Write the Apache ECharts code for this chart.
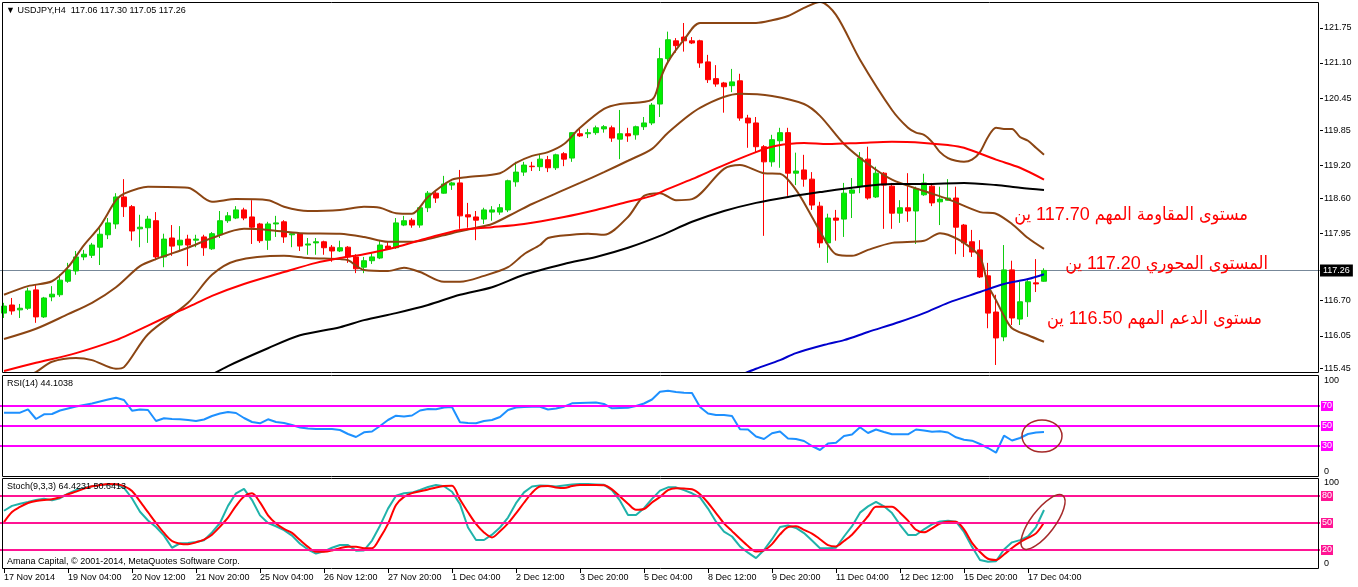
<!DOCTYPE html>
<html><head><meta charset="utf-8">
<script src="https://cdn.jsdelivr.net/npm/echarts@6/dist/echarts.min.js"></script>
<style>html,body{margin:0;padding:0;background:#fff}#c{width:1358px;height:587px}</style>
</head><body><div id="c"></div>
<script>
const FONT = '"Liberation Sans", "DejaVu Sans", Arial, sans-serif';
const ARFONT = '"Liberation Sans", "DejaVu Sans Condensed", "DejaVu Sans", sans-serif';
const tickLabels = ['17 Nov 2014','19 Nov 04:00','20 Nov 12:00','21 Nov 20:00','25 Nov 04:00','26 Nov 12:00','27 Nov 20:00','1 Dec 04:00','2 Dec 12:00','3 Dec 20:00','5 Dec 04:00','8 Dec 12:00','9 Dec 20:00','11 Dec 04:00','12 Dec 12:00','15 Dec 20:00','17 Dec 04:00'];
const priceTicks = [121.75,121.10,120.45,119.85,119.20,118.60,117.95,116.70,116.05,115.45];
const lastPrice = 117.26;

const open = [116.47,116.62,116.53,116.56,116.90,116.40,116.77,116.81,117.06,117.25,
117.51,117.54,117.69,117.92,118.12,118.62,118.44,118.03,118.05,118.18,
117.51,117.86,117.73,117.84,117.82,117.88,117.66,117.92,118.18,118.23,
118.38,118.25,118.12,117.82,118.12,118.16,117.92,117.94,117.73,117.77,
117.79,117.69,117.62,117.69,117.51,117.32,117.44,117.49,117.71,117.68,
118.10,118.19,118.10,118.42,118.69,118.69,118.84,118.88,118.29,118.25,
118.21,118.34,118.34,118.38,118.90,119.08,119.19,119.18,119.31,119.16,
119.42,119.34,119.79,119.79,119.81,119.88,119.90,119.69,119.79,119.77,
119.92,119.99,120.34,121.18,121.51,121.58,121.51,121.51,121.12,120.81,
120.73,120.68,120.77,120.08,119.99,119.55,119.27,119.66,119.81,119.06,
119.12,118.95,118.45,117.77,118.23,118.21,118.69,118.81,119.32,118.62,
119.06,118.82,118.32,118.42,118.36,118.66,118.82,118.53,118.56,118.60,
118.10,117.79,117.64,117.16,116.49,116.03,117.27,116.36,116.68,117.03,117.06];
const high = [116.66,116.75,116.64,116.94,116.99,116.77,116.97,117.19,117.40,117.62,
117.64,117.77,118.05,118.23,118.69,118.95,118.47,118.29,118.27,118.34,
117.94,118.10,118.08,117.92,117.92,117.92,117.97,118.36,118.34,118.45,
118.42,118.56,118.14,118.16,118.27,118.19,117.95,117.95,117.86,117.86,
117.81,117.73,117.81,117.71,117.56,117.51,117.58,117.82,117.79,118.23,
118.27,118.23,118.44,118.73,118.75,119.01,118.90,119.12,118.51,118.36,
118.42,118.45,118.49,118.94,119.27,119.27,119.27,119.40,119.38,119.42,
119.45,119.82,119.88,119.88,119.94,119.95,119.94,120.23,119.90,119.94,
120.10,120.36,121.38,121.68,121.56,121.84,121.58,121.53,121.25,121.06,
120.75,120.99,120.90,120.14,120.10,119.58,119.77,119.90,119.90,119.44,
119.40,119.08,118.53,118.31,118.38,118.88,118.97,119.45,119.55,119.18,
119.08,118.88,118.56,119.06,118.81,119.05,118.88,118.81,118.95,118.81,
118.12,118.01,117.82,117.40,116.81,117.73,117.44,117.05,117.08,117.47,117.30];
const low = [116.38,116.44,116.38,116.53,116.29,116.38,116.69,116.77,117.03,117.18,
117.45,117.49,117.36,117.84,118.03,118.25,117.81,117.69,117.77,117.45,
117.32,117.53,117.62,117.34,117.69,117.53,117.64,117.86,118.14,118.21,
118.19,117.75,117.77,117.64,117.88,117.77,117.69,117.62,117.55,117.55,
117.55,117.42,117.60,117.40,117.21,117.21,117.38,117.47,117.64,117.66,
118.08,118.05,118.05,118.34,118.51,118.68,118.75,118.03,118.05,117.82,
118.12,118.18,118.29,118.34,118.81,119.01,119.10,119.10,119.08,119.12,
119.19,119.27,119.73,119.71,119.77,119.81,119.64,119.32,119.64,119.68,
119.86,119.95,120.10,121.12,121.29,121.31,121.45,121.01,120.73,120.66,
120.18,120.56,120.03,119.53,119.44,117.90,119.18,119.16,118.64,118.84,
118.81,118.38,117.68,117.40,117.81,117.88,118.23,118.69,118.57,118.60,
118.03,118.03,118.14,118.16,117.75,118.64,118.45,118.10,118.55,117.56,
117.51,117.51,117.12,116.19,115.51,115.95,116.25,116.25,116.40,116.86,117.05];
const close = [116.60,116.51,116.56,116.88,116.40,116.75,116.82,117.08,117.27,117.51,
117.56,117.73,117.93,118.14,118.62,118.44,117.99,118.06,118.21,117.51,
117.84,117.71,117.82,117.73,117.84,117.68,117.94,118.18,118.27,118.38,
118.23,118.06,117.81,118.12,118.14,117.88,117.94,117.71,117.75,117.79,
117.68,117.62,117.68,117.51,117.29,117.44,117.51,117.73,117.66,118.14,
118.18,118.10,118.42,118.69,118.60,118.86,118.88,118.27,118.25,118.19,
118.38,118.38,118.42,118.92,119.08,119.21,119.18,119.32,119.16,119.40,
119.32,119.81,119.75,119.81,119.90,119.92,119.71,119.79,119.75,119.92,
119.99,120.32,121.18,121.53,121.42,121.51,121.47,121.10,120.79,120.71,
120.66,120.75,120.08,119.99,119.55,119.27,119.68,119.81,119.06,119.10,
118.95,118.47,117.77,118.23,118.19,118.69,118.75,119.34,118.60,119.06,
118.84,118.32,118.42,118.36,118.77,118.88,118.51,118.58,118.60,118.06,
117.77,117.60,117.14,116.47,116.01,117.27,116.38,116.68,117.05,117.01,117.26];

// indicator lines as [bar, value]
const bbUpper = [[0,116.81],[3,116.97],[6,117.06],[8,117.32],[10,117.73],[12,118.08],[14,118.56],[15,118.68],[18,118.81],[23,118.79],[26,118.53],[29,118.58],[33,118.56],[35,118.44],[38,118.36],[42,118.38],[45,118.44],[47,118.42],[49,118.32],[51,118.31],[53,118.62],[56,118.94],[58,118.99],[62,119.06],[64,119.25],[66,119.38],[68,119.45],[70,119.60],[72,119.90],[75,120.25],[77,120.34],[81,120.42],[82,120.79],[83,121.12],[85,121.53],[87,121.84],[90,121.84],[94,121.84],[96,121.89],[98,121.97],[100,122.12],[102,122.23],[104,121.99],[107,121.16],[111,120.23],[113,119.90],[114,119.81],[115,119.77],[116,119.64],[117,119.45],[118,119.34],[119,119.29],[120,119.27],[121,119.31],[122,119.45],[123,119.73],[124,119.90],[125,119.88],[126,119.88],[127,119.73],[128,119.66],[129,119.53],[130,119.40]];
const bbMiddle = [[0,115.99],[4,116.18],[8,116.45],[11,116.66],[14,116.95],[17,117.34],[19,117.47],[23,117.68],[26,117.86],[30,118.03],[33,118.01],[37,117.95],[42,117.94],[45,117.88],[48,117.79],[51,117.79],[53,117.84],[56,117.95],[59,118.05],[61,118.12],[64,118.34],[66,118.49],[70,118.75],[72,118.88],[75,119.08],[78,119.29],[81,119.51],[83,119.81],[87,120.27],[92,120.53],[96,120.49],[100,120.34],[102,120.12],[105,119.60],[108,119.23],[111,118.94],[115,118.73],[118,118.58],[122,118.34],[124,118.31],[126,118.12],[128,117.86],[130,117.66]];
const bbLower = [[0,115.05],[2,115.23],[4,115.38],[6,115.57],[9,115.64],[11,115.60],[14,115.44],[15,115.47],[18,116.08],[23,116.66],[26,117.18],[29,117.44],[35,117.53],[38,117.49],[42,117.47],[43,117.45],[45,117.27],[48,117.25],[50,117.31],[52,117.23],[55,117.05],[57,117.05],[60,117.16],[63,117.32],[65,117.56],[67,117.73],[68,117.86],[71,117.92],[73,117.94],[75,117.92],[78,118.25],[80,118.64],[82,118.69],[84,118.56],[86,118.58],[90,119.14],[92,119.21],[95,119.06],[97,119.05],[99,118.75],[101,118.25],[103,117.73],[104,117.56],[106,117.53],[108,117.64],[111,117.77],[115,117.81],[117,117.95],[118,117.92],[120,117.77],[122,117.51],[123,116.99],[124,116.71],[125,116.42],[126,116.19],[128,116.06],[130,115.94]];
const maRed = [[0,115.40],[4,115.55],[9,115.73],[14,115.97],[16,116.10],[20,116.38],[23,116.58],[26,116.79],[30,117.01],[35,117.23],[39,117.40],[42,117.49],[45,117.56],[49,117.69],[53,117.86],[57,118.01],[61,118.06],[65,118.12],[70,118.25],[74,118.38],[78,118.53],[81,118.64],[83,118.77],[86,118.95],[90,119.21],[94,119.45],[96,119.55],[98,119.60],[100,119.62],[103,119.60],[107,119.62],[111,119.64],[115,119.62],[118,119.58],[120,119.53],[124,119.31],[127,119.16],[130,118.94]];
const maBlack = [[25,115.25],[28,115.49],[33,115.82],[37,116.06],[42,116.21],[45,116.34],[49,116.47],[53,116.62],[57,116.81],[61,116.95],[65,117.18],[70,117.38],[74,117.51],[78,117.68],[82,117.90],[86,118.16],[90,118.36],[94,118.51],[98,118.62],[102,118.71],[107,118.81],[111,118.86],[115,118.86],[120,118.88],[124,118.84],[127,118.79],[130,118.75]];
const maBlue = [[92,115.32],[94,115.44],[97,115.60],[99,115.73],[103,115.90],[105,115.97],[108,116.12],[112,116.31],[115,116.47],[118,116.66],[122,116.86],[125,117.01],[128,117.10],[130,117.19]];

const rsi = [63.3,63.3,63.3,66.7,57,61.7,62,65.5,67.5,69.5,
71,72.5,74.5,76.5,78.3,76,65.3,66.5,66,55,
57.7,57,56.7,56,55,56.5,60,62.5,64,63,
58,54,52.7,56.7,54,53,51,48.5,47.5,47,
47,47,46,42,39,43.7,44.5,50,56,60.3,
59.5,60.5,65.5,67,66.7,68.5,69,53.7,53,52.7,
55,56,59,66,68.5,69,69.3,69.3,66.5,67.5,
69.3,72.7,73,73.3,73.5,72,67.7,68,68.3,70,
72.5,76.5,84.3,85.3,84,83.3,83,69,62.5,61,
61,60,46.7,46.5,39.5,37,42.7,44.5,37.5,37,
35,30,26,32.5,33.3,40,41.5,48.7,43,46.5,
44,41.7,41.7,41.7,46.5,45.5,44.3,44.8,43.5,38.7,
36.2,35.3,32,28,23.3,40.3,35.5,38,42,43.5,44.1];
const stochK = [63.6,69,71.4,73.3,75.5,77.1,75.2,77.6,82.5,86.6,
89,90.9,92.3,92.9,92.9,89,77.5,62.5,52.8,45.5,
36,22.5,27.4,27.9,29,30.8,39.5,50,69,83,
88,75.5,58.5,50,46.4,42,36,27,20.5,16,
18.5,22.5,25.6,25.6,19.3,19.5,30.5,47,66,80.3,
83.1,83.8,86.8,90,92.2,90.8,84.7,71,45,31.1,
31.1,37,45,56,72,84,90.5,91.8,91.3,90.6,
91.7,92.8,93.3,93.3,92.9,92.4,86.6,74.8,58.9,58.9,
66.5,76.8,86,89.6,89.6,86.5,83,78.5,66,51.5,
40.4,35,24,17,11,20,32,45.5,47.3,44.5,
38.8,30.5,22,22,22.5,35,46.5,61.5,68.5,73.6,
68.5,61,48,36.7,36.7,43,48.5,51.8,52.6,51.5,
40,23.5,9,7,7.5,20.5,28.5,31,35,45.5,64.4];
const stochD = [51,62.3,67.8,72.2,74.4,75.6,76.3,78.6,81.9,84.9,
88.2,90.8,92.1,93.3,93.1,91,85.5,74,62,50,
39,30,27,26.3,28.5,31.6,37,46,56,69,
79.5,83,73,58.5,49.5,43.5,39,31,23.5,18.1,
18.1,19.5,22,23.7,23.7,22,22,33.5,49,70,
79,83.2,85.3,87.2,89.5,91.2,91.5,76,62,49,
39.5,34,40.8,49.5,60.7,72.5,83.5,90.5,91,89.5,
88.8,91,92.2,92.2,92.2,92,87.4,79.5,71.5,64.6,
65.5,72.7,79,86.5,88.5,88.2,87.5,82,72.5,61,
49.6,41,32.5,24.5,18.3,19.5,26.5,37.3,45.5,46.5,
42.3,38.3,32,25.5,24,30,37,47,57.5,68.1,
68.1,68.1,61.5,52.6,42.5,39.6,44,49.4,51.5,51.5,
42.9,28,17.8,10.3,9,15,22.3,28.5,33.5,38.5,50.6];
const rsiLevels = [70, 50, 30];
const stochLevels = [80, 50, 20];

const NCAT = 165;
const cats = []; for (let i = 0; i < NCAT; i++) cats.push(String(i));
const candles = open.map((o, i) => [o, close[i], low[i], high[i]]);

const chart = echarts.init(document.getElementById('c'), null, {renderer: 'canvas'});

function xAx(g, showLabels) {
  const a = {type: 'category', gridIndex: g, data: cats, boundaryGap: true,
    axisLine: {show: false}, axisTick: {show: false}, axisLabel: {show: false}, splitLine: {show: false}};
  if (showLabels) {
    a.axisTick = {show: true, alignWithLabel: true, length: 5, lineStyle: {color: '#000', width: 1},
      interval: (idx) => idx % 8 === 0 && idx / 8 < tickLabels.length};
    a.axisLabel = {show: true, align: 'left', margin: 5, fontSize: 9, color: '#000', fontFamily: FONT,
      interval: (idx) => idx % 8 === 0 && idx / 8 < tickLabels.length,
      formatter: (v, idx) => tickLabels[idx / 8] || ''};
  }
  return a;
}
function lineS(data, color, g, width, z) {
  return {type: 'line', xAxisIndex: g, yAxisIndex: g, data: data, symbol: 'none', showSymbol: false,
    smooth: 0.3, lineStyle: {color: color, width: width}, silent: true, z: z || 3, animation: false};
}
function levelMark(levels, color) {
  return {silent: true, symbol: ['none', 'none'], animation: false,
    data: levels.map(v => ({yAxis: v})),
    lineStyle: {color: color, width: 2, type: 'solid'},
    label: {show: true, position: 'end', distance: 1, formatter: p => String(p.value),
      backgroundColor: color, color: '#fff', padding: [1, 1, 0, 1], fontSize: 9, fontFamily: FONT}};
}
const smallText = {fontSize: 9, fontWeight: 'normal', color: '#000', fontFamily: FONT};

const option = {
  animation: false,
  backgroundColor: '#fff',
  title: [
    {text: '\u25BC USDJPY,H4  117.06 117.30 117.05 117.26', left: 6, top: 6, padding: 0, textStyle: smallText},
    {text: 'RSI(14) 44.1038', left: 7, top: 379, padding: 0, textStyle: smallText},
    {text: 'Stoch(9,3,3) 64.4231 50.6413', left: 7, top: 482, padding: 0, textStyle: smallText},
    {text: 'Amana Capital, \u00A9 2001-2014, MetaQuotes Software Corp.', left: 7, top: 557, padding: 0, textStyle: smallText}
  ],
  grid: [
    {left: 0, top: 3, width: 1320, height: 369},
    {left: 0, top: 376, width: 1320, height: 100},
    {left: 0, top: 478, width: 1320, height: 90}
  ],
  xAxis: [xAx(0, false), xAx(1, false), xAx(2, true)],
  yAxis: [
    {type: 'value', gridIndex: 0, position: 'right', min: 115.38, max: 122.21,
      axisLine: {show: false}, splitLine: {show: false},
      axisTick: {show: true, length: 3, customValues: priceTicks, lineStyle: {color: '#000'}},
      axisLabel: {customValues: priceTicks, formatter: v => v.toFixed(2), margin: 4, fontSize: 9, color: '#000', fontFamily: FONT}},
    {type: 'value', gridIndex: 1, position: 'right', min: 0, max: 100,
      axisLine: {show: false}, splitLine: {show: false}, axisTick: {show: false},
      axisLabel: {customValues: [0, 100], margin: 4, fontSize: 9, color: '#000', fontFamily: FONT,
        verticalAlignMinLabel: 'bottom', verticalAlignMaxLabel: 'top'}},
    {type: 'value', gridIndex: 2, position: 'right', min: 0, max: 100,
      axisLine: {show: false}, splitLine: {show: false}, axisTick: {show: false},
      axisLabel: {customValues: [0, 100], margin: 4, fontSize: 9, color: '#000', fontFamily: FONT,
        verticalAlignMinLabel: 'bottom', verticalAlignMaxLabel: 'top'}}
  ],
  series: [
    {type: 'candlestick', xAxisIndex: 0, yAxisIndex: 0, data: candles, barWidth: 5, z: 2, silent: true,
      itemStyle: {color: '#00ee00', color0: '#ff0000', borderColor: '#11cc11', borderColor0: '#ff0000', borderWidth: 1},
      markLine: {silent: true, symbol: ['none', 'none'], animation: false, z: 1,
        data: [{yAxis: lastPrice}],
        lineStyle: {color: '#778899', width: 1, type: 'solid'},
        label: {show: true, position: 'end', distance: 0, formatter: lastPrice.toFixed(2),
          backgroundColor: '#000', color: '#fff', padding: [2, 3, 1, 3], fontSize: 9, fontFamily: FONT}}},
    lineS(bbUpper, '#8b4513', 0, 2),
    lineS(bbMiddle, '#8b4513', 0, 2),
    lineS(bbLower, '#8b4513', 0, 2),
    lineS(maRed, '#ff0000', 0, 2),
    lineS(maBlack, '#000000', 0, 2),
    lineS(maBlue, '#0000cd', 0, 2),
    Object.assign(lineS(rsi, '#1e90ff', 1, 2), {smooth: false, markLine: levelMark(rsiLevels, '#ff00ff')}),
    Object.assign(lineS(stochK, '#20b2aa', 2, 2), {smooth: false, markLine: levelMark(stochLevels, '#ff1493')}),
    Object.assign(lineS(stochD, '#ff0000', 2, 2), {smooth: 0.3, z: 4})
  ],
  graphic: [
    {type: 'rect', silent: true, z: 10, shape: {x: 2.5, y: 2.5, width: 1316, height: 370}, style: {fill: 'none', stroke: '#000', lineWidth: 1}},
    {type: 'rect', silent: true, z: 10, shape: {x: 2.5, y: 375.5, width: 1316, height: 101}, style: {fill: 'none', stroke: '#000', lineWidth: 1}},
    {type: 'rect', silent: true, z: 10, shape: {x: 2.5, y: 478.5, width: 1316, height: 90}, style: {fill: 'none', stroke: '#000', lineWidth: 1}},
    {type: 'text', silent: true, z: 10, style: {text: 'مستوى المقاومة المهم 117.70 ين', x: 1248, y: 215, fill: '#ff0000', fontSize: 18, fontFamily: ARFONT, align: 'right', verticalAlign: 'middle'}},
    {type: 'text', silent: true, z: 10, style: {text: 'المستوى المحوري 117.20 ين', x: 1268, y: 264, fill: '#ff0000', fontSize: 18, fontFamily: ARFONT, align: 'right', verticalAlign: 'middle'}},
    {type: 'text', silent: true, z: 10, style: {text: 'مستوى الدعم المهم 116.50 ين', x: 1262, y: 319, fill: '#ff0000', fontSize: 18, fontFamily: ARFONT, align: 'right', verticalAlign: 'middle'}},
    {type: 'ellipse', silent: true, z: 10, shape: {cx: 1042, cy: 436, rx: 20, ry: 16}, style: {fill: 'none', stroke: '#a52a2a', lineWidth: 1.5}},
    {type: 'ellipse', silent: true, z: 10, x: 1043, y: 522, rotation: 53 * Math.PI / 180, shape: {cx: 0, cy: 0, rx: 33, ry: 12}, style: {fill: 'none', stroke: '#a52a2a', lineWidth: 1.5}}
  ]
};
chart.setOption(option);
</script>
</body></html>
